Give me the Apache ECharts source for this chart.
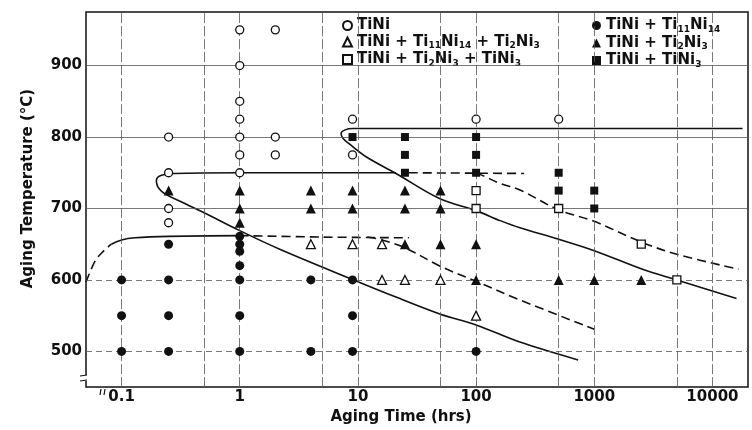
<!DOCTYPE html>
<html>
<head>
<meta charset="utf-8">
<script src="https://cdn.jsdelivr.net/npm/echarts@6/dist/echarts.min.js"></script>
<style>html,body{margin:0;padding:0;background:#fff;}#c{width:752px;height:430px;}</style>
</head>
<body>
<div id="c"></div>
<script>
// ---- axis values ----
const timeTicks = [0.1, 1, 10, 100, 1000, 10000];
const timeGrid = [0.1, 0.5, 1, 5, 10, 50, 100, 500, 1000, 5000, 10000];
const tempTicks = [500, 600, 700, 800, 900];

// ---- phase names ----
const nTiNi = 'TiNi';
const nTiNi_11_14 = 'TiNi+Ti11Ni14';
const nTiNi_11_14_23 = 'TiNi+Ti11Ni14+Ti2Ni3';
const nTiNi_23 = 'TiNi+Ti2Ni3';
const nTiNi_23_13 = 'TiNi+Ti2Ni3+TiNi3';
const nTiNi_13 = 'TiNi+TiNi3';

// ---- observations [time (hrs), temperature (C)] ----
const ptsTiNi = [[0.25,800],[0.25,750],[0.25,700],[0.25,680],
  [1,950],[1,900],[1,850],[1,825],[1,800],[1,775],[1,750],
  [2,950],[2,800],[2,775],[9,825],[9,775],[100,825],[500,825]];
const ptsTiNi_11_14 = [[0.1,600],[0.1,550],[0.1,500],
  [0.25,650],[0.25,600],[0.25,550],[0.25,500],
  [1,661],[1,650],[1,640],[1,620],[1,600],[1,550],[1,500],
  [4,600],[4,500],[9,600],[9,550],[9,500],[100,500]];
const ptsTiNi_11_14_23 = [[4,650],[9,650],[16,650],[16,600],[25,600],[50,600],[100,550]];
const ptsTiNi_23 = [[0.25,725],[1,725],[1,700],[1,680],[4,725],[4,700],[9,725],[9,700],
  [25,725],[25,700],[25,650],[50,725],[50,700],[50,650],[100,650],[100,600],
  [500,600],[1000,600],[2500,600]];
const ptsTiNi_23_13 = [[100,725],[100,700],[500,700],[2500,650],[5000,600]];
const ptsTiNi_13 = [[9,800],[25,800],[25,775],[25,750],[100,800],[100,775],[100,750],
  [500,750],[500,725],[1000,725],[1000,700]];

// ---- boundary curves [time, temperature] ----
const lowDashStart = [[0.05,597],[0.06,627],[0.071,641],[0.082,650]];
const lowSolid = [[0.082,650],[0.1,656],[0.13,659],[0.25,661],[1,662]];
const lowDashFlat = [[1,662],[5,660],[27,659]];
const lowDashDown = [[12,660],[16,656],[25,645],[50,619],[100,598],[235,572],[1000,531]];
const midSolid = [[21,750],[1,750],[0.28,749],[0.215,746],[0.197,739],[0.218,724],[0.343,707],
  [0.5,694],[1,669],[2.18,643],[9.2,600],[21,576],[50,552],[100,537],[235,513],[730,488]];
const midDashFlat = [[27,750],[255,749]];
const midDashDown = [[100,750],[114,746],[160,735],[235,726],[500,698],[1000,682],[2500,653],[5000,636],[16600,615]];
const highSolid = [[18000,812],[9,812],[7.8,810],[7.2,805],[7.5,798],[8.5,790],[11.8,772],[21,749],
  [49,714],[100,697],[160,683],[235,673],[500,657],[1000,641],[2560,615],[5000,600],[16000,574]];

const FONT = 'DejaVu Sans';
const INK = '#111';

function scatter(name, data, symbol, filled, size) {
  return {
    name: name, type: 'scatter', data: data, symbol: symbol, symbolSize: size, z: 5,
    silent: true,
    itemStyle: filled ? { color: INK, opacity: 1 } : { color: '#fff', borderColor: INK, borderWidth: 1.3, opacity: 1 }
  };
}
function curve(data, dashed) {
  return {
    type: 'line', data: data, smooth: 0.35, symbol: 'none', showSymbol: false, silent: true, z: 3,
    lineStyle: { color: INK, width: 1.6, type: dashed ? [9, 5] : 'solid' }
  };
}
function richName(name) {
  return name.split('+')
    .map(function (p) { return '{n|' + p.replace(/(\d+)/g, '}{s|$1}{n|') + '}'; })
    .join('{n| + }')
    .replace(/\{n\|\}/g, '');
}
const legendRich = {
  n: { fontFamily: FONT, fontWeight: 'bold', fontSize: 15, lineHeight: 17, color: INK },
  s: { fontFamily: FONT, fontWeight: 'bold', fontSize: 9, lineHeight: 11, color: INK, verticalAlign: 'bottom' }
};
function legend(left, data, gap) {
  return {
    orient: 'vertical', left: left, top: 18, padding: 0, itemGap: 1.5,
    itemWidth: 9, itemHeight: 9, itemTextGap: gap, selectedMode: false,
    data: data, formatter: richName,
    textStyle: { rich: legendRich }
  };
}

const vLines = timeGrid.map(function (v) { return { xAxis: v }; });
const hLines = tempTicks.map(function (v) {
  return { yAxis: v, lineStyle: { type: v >= 700 ? 'solid' : [6, 4] } };
});

const chart = echarts.init(document.getElementById('c'), null, { renderer: 'canvas' });
chart.setOption({
  animation: false,
  backgroundColor: '#fff',
  grid: { left: 86, right: 4, top: 12, bottom: 38, show: true, borderColor: INK, borderWidth: 1.5, backgroundColor: 'transparent' },
  xAxis: {
    type: 'log', logBase: 10, min: 0.05, max: 20000,
    name: 'Aging Time (hrs)', nameLocation: 'middle', nameGap: 20,
    nameTextStyle: { fontFamily: FONT, fontWeight: 'bold', fontSize: 15, color: INK, padding: [0, 32, 0, 0] },
    axisLine: { show: false }, axisTick: { show: false }, splitLine: { show: false }, minorSplitLine: { show: false },
    axisLabel: {
      margin: 3, fontFamily: FONT, fontWeight: 'bold', fontSize: 15, color: INK,
      showMinLabel: false, showMaxLabel: false,
      formatter: function (v) {
        for (let i = 0; i < timeTicks.length; i++) {
          if (Math.abs(v - timeTicks[i]) / timeTicks[i] < 1e-6) return timeTicks[i] < 1 ? timeTicks[i].toFixed(1) : String(timeTicks[i]);
        }
        return '';
      }
    }
  },
  yAxis: {
    type: 'value', min: 450, max: 975, interval: 50,
    name: 'Aging Temperature (°C)', nameLocation: 'middle', nameGap: 50, nameRotate: 90,
    nameTextStyle: { fontFamily: FONT, fontWeight: 'bold', fontSize: 15, color: INK, padding: [0, 0, 0, 22] },
    axisLine: { show: false }, axisTick: { show: false }, splitLine: { show: false },
    axisLabel: {
      margin: 4, fontFamily: FONT, fontWeight: 'bold', fontSize: 15, color: INK,
      showMinLabel: false, showMaxLabel: false,
      formatter: function (v) { return tempTicks.indexOf(v) >= 0 ? String(v) : ''; }
    }
  },
  legend: [
    legend(342, [nTiNi, nTiNi_11_14_23, nTiNi_23_13], 11),
    legend(592, [nTiNi_11_14, nTiNi_23, nTiNi_13], 4)
  ],
  graphic: [
    { type: 'rect', z: 4, silent: true, shape: { x: 323, y: 13, width: 424, height: 52 }, style: { fill: '#fff' } },
    // axis break marks near the origin
    { type: 'rect', z: 6, silent: true, shape: { x: 83, y: 375, width: 6, height: 6 }, style: { fill: '#fff' } },
    { type: 'line', z: 7, silent: true, shape: { x1: 80, y1: 376, x2: 87, y2: 375 }, style: { stroke: INK, lineWidth: 1.2 } },
    { type: 'line', z: 7, silent: true, shape: { x1: 80, y1: 381, x2: 87, y2: 380 }, style: { stroke: INK, lineWidth: 1.2 } },
    { type: 'rect', z: 6, silent: true, shape: { x: 100, y: 389, width: 5, height: 6 }, style: { fill: '#fff' } },
    { type: 'line', z: 7, silent: true, shape: { x1: 100, y1: 395, x2: 101, y2: 389 }, style: { stroke: INK, lineWidth: 1.2 } },
    { type: 'line', z: 7, silent: true, shape: { x1: 104, y1: 395, x2: 105, y2: 389 }, style: { stroke: INK, lineWidth: 1.2 } }
  ],
  series: [
    {
      type: 'line', data: [], silent: true, z: 1, symbol: 'none',
      markLine: {
        silent: true, symbol: 'none', label: { show: false }, animation: false,
        lineStyle: { color: '#555', width: 0.8, type: [10, 3] },
        data: vLines.concat(hLines)
      }
    },
    curve(lowDashStart, true),
    curve(lowSolid, false),
    curve(lowDashFlat, true),
    curve(lowDashDown, true),
    curve(midSolid, false),
    curve(midDashFlat, true),
    curve(midDashDown, true),
    curve(highSolid, false),
    scatter(nTiNi, ptsTiNi, 'circle', false, 8),
    scatter(nTiNi_11_14, ptsTiNi_11_14, 'circle', true, 9),
    scatter(nTiNi_11_14_23, ptsTiNi_11_14_23, 'triangle', false, 9),
    scatter(nTiNi_23, ptsTiNi_23, 'triangle', true, 10),
    scatter(nTiNi_23_13, ptsTiNi_23_13, 'rect', false, 8),
    scatter(nTiNi_13, ptsTiNi_13, 'rect', true, 8)
  ]
});
</script>
</body>
</html>
